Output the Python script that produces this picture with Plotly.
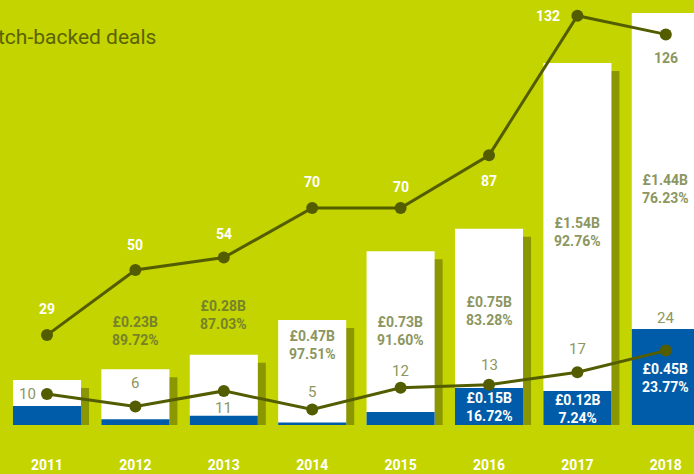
import plotly.graph_objects as go

# ---- data ----
years = [2011, 2012, 2013, 2014, 2015, 2016, 2017, 2018]
year_labels = ["2011", "2012", "2013", "2014", "2015", "2016", "2017", "2018"]
main_value_b = [0.119, 0.23, 0.28, 0.47, 0.73, 0.75, 1.54, 1.44]
main_share_pct = [None, 89.72, 87.03, 97.51, 91.60, 83.28, 92.76, 76.23]
other_value_b = [0.087, 0.026, 0.042, 0.012, 0.067, 0.15, 0.12, 0.45]
other_share_pct = [None, None, None, None, None, 16.72, 7.24, 23.77]
# blue segment heights as drawn in the picture (B)
other_bar_b = [0.087, 0.026, 0.042, 0.012, 0.06, 0.17, 0.156, 0.44]
deals_total = [29, 50, 54, 70, 70, 87, 132, 126]
deals_other = [10, 6, 11, 5, 12, 13, 17, 24]

# ---- style ----
BG = "#c4d400"
SHADOW = "#8b9700"
BLUE = "#005ca8"
LINE = "#535d00"
OLIVE_TXT = "#76832a"
GREY_TXT = "#8c9660"
FONT = "Roboto"

PX_PER_B = 218.0
PX_PER_DEAL = 3.1
PLOT_H = 425
BAR_W = 0.77
UNIT_PX = 88.4
shadow_drop = 8 / PX_PER_B
shadow_shift = 8 / UNIT_PX

totals = [m + o for m, o in zip(main_value_b, other_value_b)]

fig = go.Figure()
fig.add_trace(go.Bar(
    x=years, y=[t - shadow_drop for t in totals], width=BAR_W,
    offset=-BAR_W / 2 + shadow_shift, marker=dict(color=SHADOW, line=dict(width=0)),
    hoverinfo="skip", showlegend=False))
fig.add_trace(go.Bar(
    x=years, y=totals, width=BAR_W, offset=-BAR_W / 2,
    marker=dict(color="white", line=dict(width=0)), showlegend=False))
fig.add_trace(go.Bar(
    x=years, y=other_bar_b, width=BAR_W, offset=-BAR_W / 2,
    marker=dict(color=BLUE, line=dict(width=0)), showlegend=False))

for vals in (deals_total, deals_other):
    fig.add_trace(go.Scatter(
        x=years, y=vals, yaxis="y2", mode="lines+markers",
        line=dict(color=LINE, width=3),
        marker=dict(color=LINE, size=12), cliponaxis=False, showlegend=False))

ann = []
# main-part labels
main_yshift = [0, 38, 40, -25, -80, -82, -169, -176]
main_color = [OLIVE_TXT, OLIVE_TXT, OLIVE_TXT, GREY_TXT, GREY_TXT, GREY_TXT, GREY_TXT, GREY_TXT]
for i, yr in enumerate(years):
    if main_share_pct[i] is None:
        continue
    ann.append(dict(x=yr, y=totals[i], xref="x", yref="y", yshift=main_yshift[i],
                    text=f"<b>£{main_value_b[i]:.2f}B<br>{main_share_pct[i]:.2f}%</b>",
                    showarrow=False, font=dict(family=FONT, size=14, color=main_color[i]),
                    yanchor="middle"))
# other-part labels
other_yshift = [0, 0, 0, 0, 0, -19, -18, -49]
for i, yr in enumerate(years):
    if other_share_pct[i] is None:
        continue
    ann.append(dict(x=yr, y=other_bar_b[i], xref="x", yref="y", yshift=other_yshift[i],
                    text=f"<b>£{other_value_b[i]:.2f}B<br>{other_share_pct[i]:.2f}%</b>",
                    showarrow=False, font=dict(family=FONT, size=14, color="white"),
                    yanchor="middle"))
# deal count labels
tot_shift = [(0, 26), (0, 25), (0, 24), (0, 26), (0, 21), (0, -26), (-29, 0), (0, -24)]
tot_color = ["white"] * 7 + [GREY_TXT]
for i, yr in enumerate(years):
    ann.append(dict(x=yr, y=deals_total[i], xref="x", yref="y2",
                    xshift=tot_shift[i][0], yshift=tot_shift[i][1],
                    text=f"<b>{deals_total[i]}</b>", showarrow=False,
                    font=dict(family=FONT, size=14, color=tot_color[i])))
oth_shift = [(-20, 0), (0, 23), (0, -17), (0, 18), (0, 17), (0, 20), (0, 23), (0, 33)]
for i, yr in enumerate(years):
    ann.append(dict(x=yr, y=deals_other[i], xref="x", yref="y2",
                    xshift=oth_shift[i][0], yshift=oth_shift[i][1],
                    text=f"{deals_other[i]}", showarrow=False,
                    font=dict(family=FONT, size=15, color=GREY_TXT)))
# title (cropped at the left edge in the original)
ann.append(dict(x=158 / 694, y=1 - 37 / PLOT_H, xref="paper", yref="paper", yanchor="middle",
                xanchor="right", text="tch-backed deals", showarrow=False,
                font=dict(family=FONT, size=21, color="#5a6300")))

x0 = 2011 - 47 / UNIT_PX
fig.update_layout(
    width=694, height=474,
    margin=dict(l=0, r=0, t=0, b=474 - PLOT_H, pad=0),
    paper_bgcolor=BG, plot_bgcolor=BG,
    barmode="overlay",
    xaxis=dict(range=[x0, x0 + 694 / UNIT_PX], tickvals=years, ticktext=[f"<b>{y}</b>" for y in year_labels],
               showgrid=False, zeroline=False, showline=False, ticks="",
               tickfont=dict(family=FONT, size=14, color="white"), ticklabelstandoff=30),
    yaxis=dict(range=[0, PLOT_H / PX_PER_B], visible=False, showgrid=False, zeroline=False),
    yaxis2=dict(range=[0, PLOT_H / PX_PER_DEAL], overlaying="y", visible=False,
                showgrid=False, zeroline=False),
    annotations=ann,
    font=dict(family=FONT),
)
fig.write_html("out.html", config={"displayModeBar": False},
               post_script="document.body.style.margin='0';document.body.style.overflow='hidden';")
